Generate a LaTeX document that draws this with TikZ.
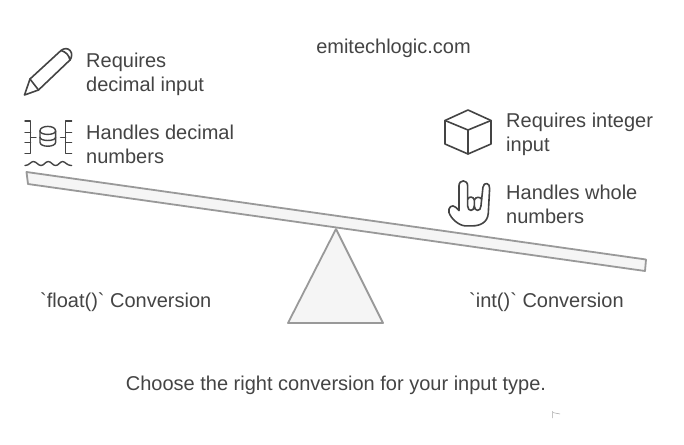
\documentclass[tikz,border=0pt]{standalone}
\usepackage{fontspec}
\newfontfamily\labelfont{Liberation Sans}
\usetikzlibrary{positioning}
\definecolor{inkgray}{HTML}{444444}
\definecolor{beamgray}{HTML}{999999}
\definecolor{beamfill}{HTML}{F5F5F5}
\tikzset{label/.style={font=\labelfont\fontsize{20pt}{24pt}\selectfont,text=inkgray,inner sep=0pt,align=left},
        icon/.style={draw=inkgray,line width=1.6pt,line join=round,line cap=round},
        thinicon/.style={draw=inkgray,line width=1.4pt,line join=round,line cap=round},
        board/.style={draw=beamgray,fill=beamfill,line width=1.8pt,line join=round}}

\begin{document}
\begin{tikzpicture}[x=1pt,y=-1pt]
  \useasboundingbox[fill=white] (0,0) rectangle (684,444);
  % seesaw
  \draw[board] (336,229)--(383,323)--(288,323)--cycle;
  \draw[board] (26.5,172)--(646,259.5)--(645,271)--(28,184)--cycle;
  % left texts
  \node[label,anchor=west] (reqdec) at (86,74) {Requires\\decimal input};
  \node[label,anchor=west] (handec) at (86,144) {Handles decimal\\numbers};
  \node[label,anchor=west] (floatconv) at (40,302) {`float()` Conversion};
  % right texts
  \node[label,anchor=west] (reqint) at (506,134) {Requires integer\\input};
  \node[label,anchor=west] (hanwhole) at (506,204) {Handles whole\\numbers};
  \node[label,anchor=west] (intconv) at (469,302) {`int()` Conversion};
  \node[label] (site) at (393.5,48) {emitechlogic.com};
  \node[label] (choose) at (336,385) {Choose the right conversion for your input type.};
  % pencil
  \draw[icon] (24.5,95)--(30,79)--(61,50.5) ..controls (64,48) and (68,48) .. (70,50.5)
      ..controls (72.5,53) and (72,57) .. (70,60)--(38.5,90)--cycle;
  \draw[icon] (30,79)--(38.5,90);
  \draw[icon] (61,50.5) ..controls (66,52) and (69,55) .. (70,60);
  % database between brackets
  \begin{scope}[shift={(10,35)},x=0.333pt,y=-0.333pt]
    \draw[thinicon] (45,258)--(62,258)--(62,355)--(45,355) (45,293)--(62,293) (45,322)--(62,322) (62,307)--(78,307);
    \draw[thinicon] (185,258)--(167,258)--(167,355)--(185,355) (185,293)--(167,293) (185,322)--(167,322) (167,307)--(152,307);
    \draw[thinicon] (90,288) ..controls (90,270) and (137,270) .. (137,288)
        --(137,322) ..controls (137,338) and (90,338) .. (90,322)--cycle;
    \draw[thinicon] (90,288) ..controls (90,302) and (137,302) .. (137,288);
    \draw[thinicon] (90,307) ..controls (90,320) and (137,320) .. (137,307);
    \draw[thinicon] (45,392) ..controls (58,392) and (62,380) .. (70,380)
        ..controls (80,380) and (84,392) .. (93,392) ..controls (102,392) and (106,380) .. (115,380)
        ..controls (124,380) and (128,392) .. (137,392) ..controls (146,392) and (150,380) .. (158,380)
        ..controls (166,380) and (170,392) .. (185,392);
  \end{scope}
  % cube
  \draw[icon] (468,110)--(491,120.5)--(491,144)--(468,154)--(445,144)--(445,120.5)--cycle;
  \draw[icon] (445,120.5)--(468,130)--(491,120.5);
  \draw[icon] (468,130)--(468,154);
  % hand
  \begin{scope}[shift={(435,100)},x=0.333pt,y=-0.333pt]
    \draw[icon] (72,332)--(72,258) ..controls (72,238) and (98,238) .. (98,258)
        --(98,318) ..controls (98,336) and (118,336) .. (118,318)
        ..controls (118,336) and (138,336) .. (138,318)--(144,262)
        ..controls (146,245) and (166,248) .. (164,266)
        --(160,340) ..controls (158,368) and (135,378) .. (112,378)
        --(90,378) ..controls (70,376) and (48,356) .. (42,338)
        ..controls (38,322) and (52,312) .. (62,322)--(72,332);
    \draw[icon] (98,298) ..controls (102,288) and (116,290) .. (118,300)--(118,318);
    \draw[icon] (118,300) ..controls (122,290) and (136,290) .. (140,298);
  \end{scope}
  % faint mark
  \draw[black!35,line width=0.5pt] (552.5,411)--(552.5,418) (552.5,412.5)--(560,414);
\end{tikzpicture}
\end{document}
